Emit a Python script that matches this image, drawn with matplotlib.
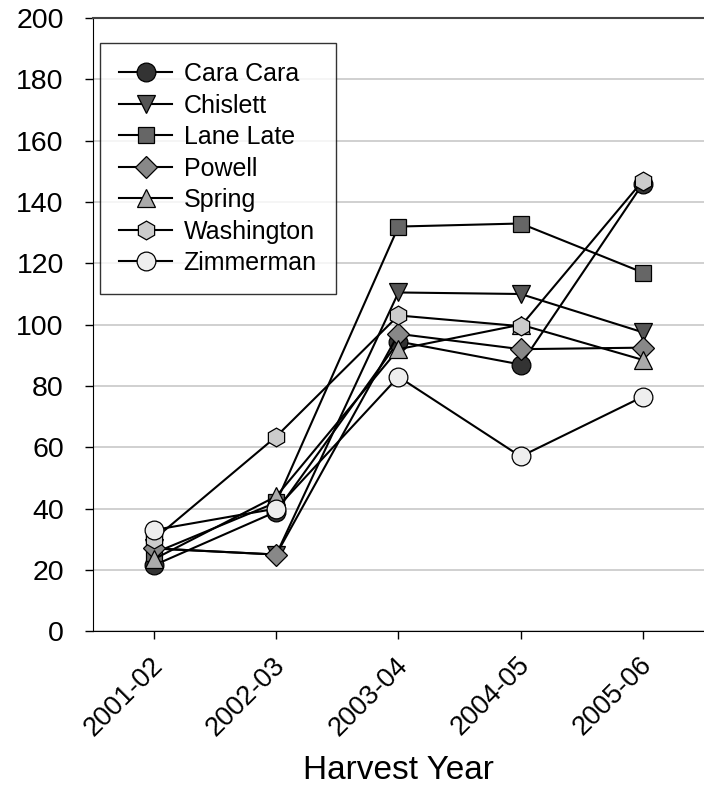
import numpy as np
import matplotlib.pyplot as plt
import matplotlib.transforms as mtransforms

plt.rcParams['font.family'] = ['Liberation Sans', 'DejaVu Sans']

years = ['2001-02', '2002-03', '2003-04', '2004-05', '2005-06']

cara_cara = [21.5, 39, 94.5, 87, 146]
chislett = [27, 25, 110.5, 110, 97.5]
lane_late = [25.5, 42, 132, 133, 117]
powell = [27, 25, 97, 92, 92.5]
spring = [23.5, 44, 92, 100, 88.5]
washington = [30, 63.5, 103, 99.5, 147]
zimmerman = [33, 40, 83, 57, 76.5]

series = [
    ('Cara Cara', cara_cara, 'o', '#333333'),
    ('Chislett', chislett, 'v', '#555555'),
    ('Lane Late', lane_late, 's', '#666666'),
    ('Powell', powell, 'D', '#888888'),
    ('Spring', spring, '^', '#aaaaaa'),
    ('Washington', washington, 'h', '#cccccc'),
    ('Zimmerman', zimmerman, 'o', '#eeeeee'),
]
sizes = {'o': 13.5, 'v': 13.5, 's': 11.5, 'D': 11.5, '^': 13.5, 'h': 13.5}

fig = plt.figure(figsize=(7.04, 7.88), dpi=100)
ax = fig.add_axes([0.132, 0.199, 0.868, 0.778])

x = np.arange(len(years))
for name, vals, mk, col in series:
    ax.plot(x, vals, color='black', lw=1.5, marker=mk, ms=sizes[mk],
            mfc=col, mec='black', mew=0.9, label=name, clip_on=False)

ax.set_xlim(-0.5, 4.5)
ax.set_ylim(0, 200)
ax.set_yticks(np.arange(0, 201, 20))
ax.set_xticks(x)
ax.set_xticklabels(years, rotation=45, ha='right', rotation_mode='anchor')
ax.tick_params(axis='both', direction='out', length=6, width=1)
ax.tick_params(axis='x', labelsize=19.5, pad=9)
ax.tick_params(axis='y', labelsize=20.5, pad=15)
# nudge rotated labels a little to the left
shift = mtransforms.ScaledTranslation(-4 / 100, 0, fig.dpi_scale_trans)
for lab in ax.get_xticklabels():
    lab.set_transform(lab.get_transform() + shift)
ax.yaxis.grid(True, color='#c8c8c8', lw=1.2)
ax.set_axisbelow(True)
ax.spines['right'].set_visible(False)
ax.spines['top'].set_color('#444444')
ax.spines['top'].set_linewidth(1.5)
ax.set_xlabel('Harvest Year', fontsize=24, labelpad=10.5)

leg = ax.legend(loc='upper left', bbox_to_anchor=(0.0114, 0.959), fontsize=18,
                frameon=True, fancybox=False, edgecolor='black',
                handlelength=2.15, labelspacing=0.3, borderpad=0.75,
                handletextpad=0.45, borderaxespad=0.0)
leg.get_frame().set_linewidth(1.0)

plt.savefig('out.png', dpi=100)
